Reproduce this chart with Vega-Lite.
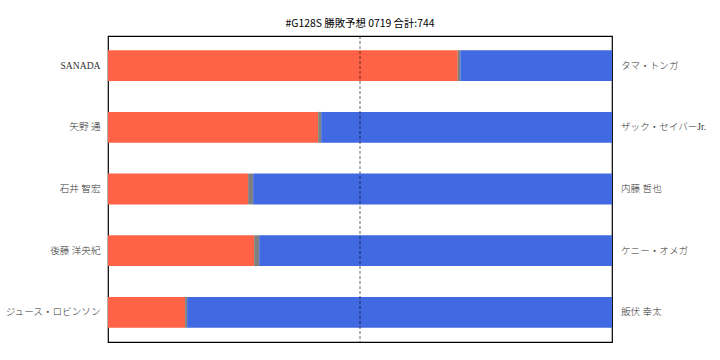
{
  "$schema": "https://vega.github.io/schema/vega-lite/v6.json",
  "width": 504,
  "height": 306,
  "autosize": {"type": "none"},
  "padding": {"left": 108, "top": 36, "right": 108, "bottom": 18},
  "background": "white",
  "title": {"text": "#G128S 勝敗予想 0719 合計:744", "fontSize": 10.4, "fontWeight": "normal", "font": "Noto Sans CJK JP", "color": "#000", "offset": 6},
  "config": {"view": {"stroke": "#000", "strokeWidth": 1.2}},
  "datasets": {
    "segs": [
      {"left": "SANADA", "res": "win", "k": 1, "pct": 69.4},
      {"left": "SANADA", "res": "draw", "k": 2, "pct": 0.5},
      {"left": "SANADA", "res": "loss", "k": 3, "pct": 30.1},
      {"left": "矢野 通", "res": "win", "k": 1, "pct": 41.7},
      {"left": "矢野 通", "res": "draw", "k": 2, "pct": 0.6},
      {"left": "矢野 通", "res": "loss", "k": 3, "pct": 57.7},
      {"left": "石井 智宏", "res": "win", "k": 1, "pct": 27.8},
      {"left": "石井 智宏", "res": "draw", "k": 2, "pct": 1.0},
      {"left": "石井 智宏", "res": "loss", "k": 3, "pct": 71.2},
      {"left": "後藤 洋央紀", "res": "win", "k": 1, "pct": 29.0},
      {"left": "後藤 洋央紀", "res": "draw", "k": 2, "pct": 1.0},
      {"left": "後藤 洋央紀", "res": "loss", "k": 3, "pct": 70.0},
      {"left": "ジュース・ロビンソン", "res": "win", "k": 1, "pct": 15.3},
      {"left": "ジュース・ロビンソン", "res": "draw", "k": 2, "pct": 0.4},
      {"left": "ジュース・ロビンソン", "res": "loss", "k": 3, "pct": 84.3}
    ],
    "rows": [
      {"left": "SANADA", "right": "タマ・トンガ"},
      {"left": "矢野 通", "right": "ザック・セイバーJr."},
      {"left": "石井 智宏", "right": "内藤 哲也"},
      {"left": "後藤 洋央紀", "right": "ケニー・オメガ"},
      {"left": "ジュース・ロビンソン", "right": "飯伏 幸太"}
    ]
  },
  "layer": [
    {
      "data": {"name": "segs"},
      "mark": {"type": "bar", "cornerRadius": 0},
      "encoding": {
        "y": {
          "field": "left", "type": "nominal", "sort": null,
          "scale": {"paddingInner": 0.5, "paddingOuter": 0.23},
          "axis": {"title": null, "domain": false, "ticks": false, "labelPadding": 8, "labelFont": "Liberation Serif, Noto Sans CJK JP", "labelFontSize": 9.6, "labelFontWeight": 300, "labelColor": "#333", "labelLimit": 200}
        },
        "x": {
          "field": "pct", "type": "quantitative", "stack": "zero",
          "scale": {"domain": [0, 100], "nice": false, "zero": true},
          "axis": null
        },
        "color": {
          "field": "res", "type": "nominal",
          "scale": {"domain": ["win", "draw", "loss"], "range": ["#ff6347", "#808080", "#4169e1"]},
          "legend": null
        },
        "order": {"field": "k", "type": "quantitative"}
      }
    },
    {
      "data": {"name": "rows"},
      "mark": {"type": "text", "align": "left", "baseline": "middle", "dx": 9, "font": "Liberation Serif, Noto Sans CJK JP", "fontSize": 9.6, "fontWeight": 300, "color": "#333"},
      "encoding": {
        "y": {"field": "left", "type": "nominal", "sort": null},
        "x": {"datum": 100},
        "text": {"field": "right"}
      }
    },
    {
      "data": {"values": [{}]},
      "mark": {"type": "rule", "color": "#000", "opacity": 0.6, "strokeDash": [3, 2], "strokeWidth": 1},
      "encoding": {"x": {"datum": 50}}
    }
  ]
}
